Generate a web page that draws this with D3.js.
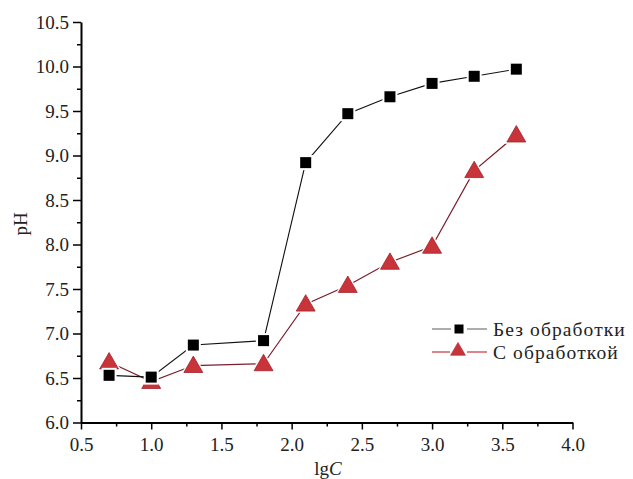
<!DOCTYPE html>
<html>
<head>
<meta charset="utf-8">
<script src="https://cdn.jsdelivr.net/npm/d3@7/dist/d3.min.js"></script>
<style>
  html, body { margin: 0; padding: 0; background: #fff; }
  svg { display: block; }
  text { font-family: "Liberation Serif", "Times New Roman", serif; }
</style>
</head>
<body>
<svg id="chart" width="633" height="479"></svg>
<script>
const lgC = [0.7, 1.0, 1.3, 1.8, 2.1, 2.4, 2.7, 3.0, 3.3, 3.6];
const phUntreated = [6.53, 6.51, 6.87, 6.92, 8.92, 9.47, 9.66, 9.81, 9.89, 9.97];
const phTreated = [6.68, 6.46, 6.64, 6.66, 7.33, 7.54, 7.80, 7.98, 8.83, 9.23];
const seriesNames = ["Без обработки", "С обработкой"];
const xTicks = [0.5, 1.0, 1.5, 2.0, 2.5, 3.0, 3.5, 4.0];
const yTicks = [6.0, 6.5, 7.0, 7.5, 8.0, 8.5, 9.0, 9.5, 10.0, 10.5];

(function () {
const svg = d3.select("#chart");
const mLeft = 81, mRight = 572.5, mTop = 22, mBottom = 422.5;
const x = d3.scaleLinear().domain([0.5, 4.0]).range([mLeft, mRight]);
const y = d3.scaleLinear().domain([6.0, 10.5]).range([mBottom, mTop]);

const fontSize = 19;
const fam = "'Liberation Serif', 'Times New Roman', serif";

const xMinor = d3.range(0.75, 4.0, 0.5);
const yMinor = d3.range(6.25, 10.5, 0.5);

const gx = svg.append("g").attr("transform", `translate(0,${mBottom})`);
gx.call(d3.axisBottom(x).tickValues(xTicks).tickFormat(d3.format(".1f")).tickSize(7).tickSizeOuter(0));
gx.append("g").call(d3.axisBottom(x).tickValues(xMinor).tickFormat("").tickSize(4).tickSizeOuter(0))
  .select(".domain").remove();

const gy = svg.append("g").attr("transform", `translate(${mLeft},0)`);
gy.call(d3.axisLeft(y).tickValues(yTicks).tickFormat(d3.format(".1f")).tickSize(8).tickSizeOuter(0));
gy.append("g").call(d3.axisLeft(y).tickValues(yMinor).tickFormat("").tickSize(4).tickSizeOuter(0))
  .select(".domain").remove();

svg.selectAll("g").attr("font-family", fam);
svg.selectAll(".domain").attr("stroke", "#000").attr("stroke-width", 2);
svg.selectAll(".tick line").attr("stroke", "#000").attr("stroke-width", 1.5);
gx.selectAll(".tick text").attr("font-size", fontSize).attr("font-family", fam).attr("fill", "#222").attr("dy", "0.95em");
gy.selectAll(".tick text").attr("font-size", fontSize).attr("font-family", fam).attr("fill", "#222").attr("dx", "-0.05em");

const xt = svg.append("text").attr("x", 328).attr("y", 475).attr("text-anchor", "middle")
  .attr("font-family", fam).attr("font-size", fontSize).attr("fill", "#222");
xt.append("tspan").text("lg");
xt.append("tspan").attr("font-style", "italic").text("C");

svg.append("text").attr("transform", "translate(27,224) rotate(-90)").attr("text-anchor", "middle")
  .attr("font-family", fam).attr("font-size", fontSize).attr("fill", "#222").text("pH");

const line = d3.line().x(d => x(d[0])).y(d => y(d[1]));
const d1 = lgC.map((v, i) => [v, phUntreated[i]]);
const d2 = lgC.map((v, i) => [v, phTreated[i]]);

const redFill = "#c9343b", redStroke = "#a2222b", redLine = "#7a1f2b";

svg.append("path").datum(d2).attr("d", line).attr("fill", "none").attr("stroke", redLine).attr("stroke-width", 1.2);
svg.append("path").datum(d1).attr("d", line).attr("fill", "none").attr("stroke", "#111").attr("stroke-width", 1.1);

const tri = d3.symbol().type(d3.symbolTriangle).size(155);
const triHalo = d3.symbol().type(d3.symbolTriangle).size(265);

svg.append("g").selectAll("path").data(d2).join("path")
  .attr("transform", d => `translate(${x(d[0])},${y(d[1]) + 1.5})`)
  .attr("d", triHalo).attr("fill", "#fff");
svg.append("g").selectAll("path").data(d2).join("path")
  .attr("transform", d => `translate(${x(d[0])},${y(d[1]) + 1.5})`)
  .attr("d", tri).attr("fill", redFill).attr("stroke", redStroke).attr("stroke-width", 0.8);

const sq = 11;
svg.append("g").selectAll("rect").data(d1).join("rect")
  .attr("x", d => x(d[0]) - sq / 2 - 2).attr("y", d => y(d[1]) - sq / 2 - 2)
  .attr("width", sq + 4).attr("height", sq + 4).attr("fill", "#fff");
svg.append("g").selectAll("rect").data(d1).join("rect")
  .attr("x", d => x(d[0]) - sq / 2).attr("y", d => y(d[1]) - sq / 2)
  .attr("width", sq).attr("height", sq).attr("fill", "#000");

const lg = svg.append("g");
const rows = [329, 352];
const lfs = 19.5;
const ls = 1.1;
lg.append("line").attr("x1", 432).attr("x2", 451).attr("y1", rows[0]).attr("y2", rows[0]).attr("stroke", "#777").attr("stroke-width", 1.2);
lg.append("line").attr("x1", 467).attr("x2", 487).attr("y1", rows[0]).attr("y2", rows[0]).attr("stroke", "#777").attr("stroke-width", 1.2);
lg.append("rect").attr("x", 454.5).attr("y", rows[0] - 4.5).attr("width", 9).attr("height", 9).attr("fill", "#000");
lg.append("text").attr("x", 493).attr("y", rows[0] + 6.5).attr("font-family", fam).attr("font-size", lfs).attr("letter-spacing", ls).attr("fill", "#222").text(seriesNames[0]);
lg.append("line").attr("x1", 432).attr("x2", 450).attr("y1", rows[1]).attr("y2", rows[1]).attr("stroke", redFill).attr("stroke-width", 1.2);
lg.append("line").attr("x1", 467).attr("x2", 487).attr("y1", rows[1]).attr("y2", rows[1]).attr("stroke", redFill).attr("stroke-width", 1.2);
lg.append("path").attr("transform", `translate(458,${rows[1] - 1})`).attr("d", d3.symbol().type(d3.symbolTriangle).size(95))
  .attr("fill", redFill).attr("stroke", redStroke).attr("stroke-width", 0.6);
lg.append("text").attr("x", 493).attr("y", rows[1] + 6.5).attr("font-family", fam).attr("font-size", lfs).attr("letter-spacing", ls).attr("fill", "#222").text(seriesNames[1]);
})();
</script>
</body>
</html>
